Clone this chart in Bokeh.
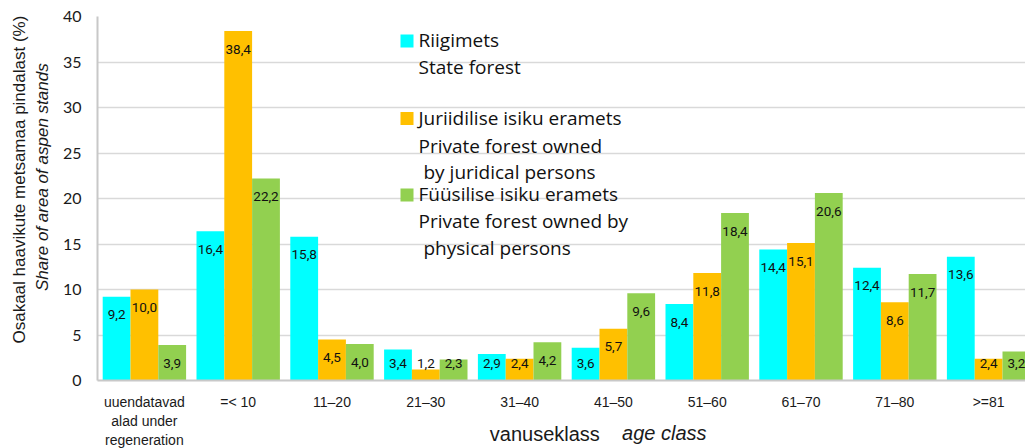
from bokeh.plotting import figure
from bokeh.models import ColumnDataSource, Label, FixedTicker, Range1d, LinearAxis
from bokeh.core.properties import value
from bokeh.embed import file_html
from bokeh.resources import INLINE

# ---------------- data ----------------
categories = ["uuendatavad\nalad under\nregeneration", "=< 10", "11–20", "21–30", "31–40",
              "41–50", "51–60", "61–70", "71–80", ">=81"]
state_forest = [9.2, 16.4, 15.8, 3.4, 2.9, 3.6, 8.4, 14.4, 12.4, 13.6]
juridical_private = [10.0, 38.4, 4.5, 1.2, 2.4, 5.7, 11.8, 15.1, 8.6, 2.4]
physical_private = [3.9, 22.2, 4.0, 2.3, 4.2, 9.6, 18.4, 20.6, 11.7, 3.2]
y_ticks = [0, 5, 10, 15, 20, 25, 30, 35, 40]

series = [state_forest, juridical_private, physical_private]
colors = ["#00FFFF", "#FFC000", "#92D050"]
legend_lines = [
    [("Riigimets", 0), ("State forest", 0)],
    [("Juriidilise isiku eramets", 0), ("Private forest owned", 0), ("by juridical persons", 5)],
    [("Füüsilise isiku eramets", 0), ("Private forest owned by", 0), ("physical persons", 5)],
]
NB = "\u00a0"
y_title_1 = NB * 8 + "Osakaal haavikute metsamaa pindalast (%)"
y_title_2 = NB * 9 + "Share of area of aspen stands"
x_title_1 = "vanuseklass" + NB * 6
x_title_2 = NB * 37 + "age class"

# ---------------- layout helpers (page px -> data) ----------------
X0, PXU = 97.0, 93.8
Y0, PYU = 380.0, 9.1
def dx(px):
    return (px - X0) / PXU
def dy(py):
    return (Y0 - py) / PYU

BW = 27.8 / PXU
offsets = [-BW, 0.0, BW]

p = figure(width=1025, height=448, x_range=Range1d(0, dx(1025)), y_range=Range1d(0, 40),
           output_backend="svg", toolbar_location=None,
           min_border_left=97, min_border_right=0, min_border_top=16, min_border_bottom=68)
p.outline_line_color = None
p.xgrid.grid_line_color = None
p.ygrid.ticker = FixedTicker(ticks=y_ticks)
p.ygrid.grid_line_color = "#D9D9D9"
p.ygrid.grid_line_width = 1.5

# y axis (inner) with italic english title
p.yaxis.ticker = FixedTicker(ticks=y_ticks)
p.yaxis.axis_line_color = "#C8C8C8"
p.yaxis.axis_line_width = 2
p.yaxis.major_tick_line_color = None
p.yaxis.minor_tick_line_color = None
p.yaxis.major_tick_out = 0
p.yaxis.minor_tick_out = 0
p.yaxis.major_label_standoff = 16
p.yaxis.major_label_text_font = "Lato"
p.yaxis.major_label_text_font_size = "16px"
p.yaxis.major_label_text_color = "#1a1a1a"
p.yaxis.axis_label = y_title_2
p.yaxis.axis_label_standoff = 8
p.yaxis.axis_label_text_font = "Liberation Sans"
p.yaxis.axis_label_text_font_size = "17px"
p.yaxis.axis_label_text_font_style = "italic"
p.yaxis.axis_label_text_color = "#1a1a1a"

# outer y axis carrying only the Estonian title
ya2 = LinearAxis(ticker=FixedTicker(ticks=[]), axis_line_color=None,
                 major_tick_line_color=None, minor_tick_line_color=None,
                 major_tick_out=0, minor_tick_out=0, major_label_standoff=0,
                 major_label_text_font_size="0px",
                 axis_label=y_title_1, axis_label_standoff=1,
                 axis_label_text_font="Liberation Sans", axis_label_text_font_size="17px",
                 axis_label_text_font_style="normal", axis_label_text_color="#1a1a1a")
p.add_layout(ya2, "left")

# x axis
p.xaxis.ticker = FixedTicker(ticks=[i + 0.5 for i in range(len(categories))])
p.xaxis.major_label_overrides = {i + 0.5: c for i, c in enumerate(categories)}
p.xaxis.axis_line_color = "#C8C8C8"
p.xaxis.axis_line_width = 2
p.xaxis.major_tick_line_color = None
p.xaxis.minor_tick_line_color = None
p.xaxis.major_tick_out = 0
p.xaxis.minor_tick_out = 0
p.xaxis.major_label_standoff = 13
p.xaxis.major_label_text_font = "Liberation Sans"
p.xaxis.major_label_text_font_size = "14px"
p.xaxis.major_label_text_line_height = 1.2
p.xaxis.major_label_text_color = "#1a1a1a"
p.xaxis.axis_label = x_title_1
p.xaxis.axis_label_standoff = -28
p.xaxis.axis_label_text_font = "Liberation Sans"
p.xaxis.axis_label_text_font_size = "20px"
p.xaxis.axis_label_text_font_style = "normal"
p.xaxis.axis_label_text_color = "#1a1a1a"

xa2 = LinearAxis(ticker=FixedTicker(ticks=[]), axis_line_color=None,
                 major_tick_line_color=None, minor_tick_line_color=None,
                 major_tick_out=0, minor_tick_out=0, major_label_standoff=0,
                 major_label_text_font_size="0px",
                 axis_label=x_title_2, axis_label_standoff=-26,
                 axis_label_text_font="Liberation Sans", axis_label_text_font_size="20px",
                 axis_label_text_font_style="italic", axis_label_text_color="#1a1a1a")
p.add_layout(xa2, "below")

# bars and value labels
for vals, off, col in zip(series, offsets, colors):
    xs = [i + 0.5 + off for i in range(len(vals))]
    src = ColumnDataSource(dict(
        x=xs, top=vals,
        ly=[max(v - 2.0, 1.85) for v in vals],
        txt=[("%.1f" % v).replace(".", ",") for v in vals],
    ))
    p.vbar(x="x", top="top", width=BW, bottom=0, source=src, fill_color=col, line_color=None)
    p.text(x="x", y="ly", text="txt", source=src, text_align="center", text_baseline="middle",
           text_font=value("Roboto"), text_font_size="13.5px", text_color="#111111")

# legend block
sq_y = [40.5, 118, 194.5]
line_y = [[39, 66], [117, 145, 171], [193, 220, 247]]
for k in range(3):
    p.scatter(x=[dx(406.5)], y=[dy(sq_y[k])], marker="square", size=13,
              fill_color=colors[k], line_color=None)
    for (txt, ind), yy in zip(legend_lines[k], line_y[k]):
        p.add_layout(Label(x=dx(418 + ind), y=dy(yy), text=txt, text_align="left",
                           text_baseline="middle", text_font="Open Sans", text_font_size="19px",
                           text_color="#111111"))

open("out.html", "w").write(file_html(p, INLINE))
